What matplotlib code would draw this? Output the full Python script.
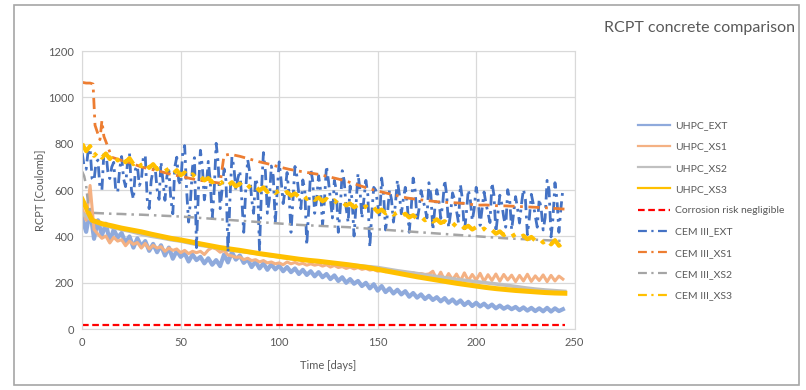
import matplotlib
matplotlib.use('Agg')
import matplotlib.pyplot as plt
from matplotlib.patches import Rectangle

plt.rcParams['font.family'] = ['Lato', 'DejaVu Sans']

# time grids (days)
days1 = list(range(0, 245))
days2 = list(range(0, 246, 2))
days5 = list(range(0, 246, 5))

# UHPC series
uhpc_ext = [480, 420, 515, 390, 470, 405, 455, 380, 430, 395,
            415, 372, 400, 352, 392, 358, 380, 338, 368, 332,
            362, 318, 352, 304, 338, 312, 328, 292, 322, 298,
            312, 284, 306, 278, 298, 272, 322, 288, 332, 300,
            318, 286, 302, 268, 292, 262, 284, 256, 280, 258,
            274, 250, 268, 246, 262, 238, 256, 234, 250, 228,
            246, 224, 238, 216, 232, 208, 224, 200, 216, 196,
            208, 186, 200, 176, 194, 166, 186, 160, 176, 154,
            170, 150, 164, 140, 156, 136, 150, 130, 144, 126,
            138, 120, 134, 114, 128, 110, 124, 104, 118, 100,
            114, 98, 110, 94, 106, 90, 102, 88, 98, 86,
            96, 82, 94, 80, 92, 78, 90, 77, 92, 76,
            90, 78, 86]
uhpc_xs1 = [520, 470, 620, 430, 410, 392, 402, 372, 396, 380,
            386, 360, 380, 366, 374, 350, 370, 346, 362, 350,
            356, 336, 350, 340, 346, 330, 340, 326, 336, 330,
            336, 322, 342, 352, 346, 332, 340, 320, 316, 310,
            312, 300, 306, 296, 300, 290, 296, 286, 290, 282,
            286, 278, 290, 282, 288, 280, 284, 276, 282, 276,
            280, 272, 278, 268, 275, 266, 270, 262, 268, 260,
            266, 258, 262, 255, 258, 250, 255, 248, 252, 246,
            248, 242, 246, 240, 243, 238, 240, 236, 238, 250,
            214, 246, 210, 240, 213, 238, 208, 243, 210, 236,
            212, 241, 206, 235, 210, 238, 207, 236, 212, 233,
            205, 232, 208, 237, 206, 230, 210, 234, 205, 232,
            208, 229, 216]
uhpc_xs2 = [500, 468, 452, 440, 430, 421, 410, 401, 394, 386,
            380, 371, 362, 356, 348, 342, 336, 331, 325, 318,
            312, 306, 301, 296, 291, 286, 281, 277, 274, 270,
            266, 259, 252, 246, 240, 233, 227, 221, 215, 210,
            205, 200, 195, 190, 184, 178, 173, 169, 166, 163]
uhpc_xs3 = [560, 470, 455, 446, 436, 428, 420, 410, 401, 392,
            385, 377, 368, 360, 352, 346, 340, 333, 326, 320,
            314, 308, 302, 297, 293, 288, 283, 278, 272, 266,
            258, 250, 242, 234, 226, 219, 212, 205, 198, 192,
            186, 180, 175, 171, 167, 164, 161, 158, 156, 155]

# corrosion threshold
risk_days = [0, 245]
risk = [20, 20]

# CEM III series
cem_ext = [760, 700, 690, 770, 780, 650, 640, 720, 730, 610, 600, 760, 770, 680, 650, 700, 720, 600, 590, 690,
           745, 650, 615, 720, 760, 600, 560, 690, 705, 620, 640, 740, 752, 560, 520, 640, 688, 700, 604, 560,
           722, 640, 556, 660, 684, 560, 498, 700, 742, 640, 622, 760, 792, 600, 462, 560, 700, 740, 352, 600,
           772, 700, 558, 620, 724, 640, 478, 600, 802, 720, 520, 600, 692, 640, 332, 560, 744, 700, 600, 650,
           684, 560, 418, 600, 732, 680, 562, 500, 652, 620, 342, 600, 762, 680, 500, 560, 704, 660, 458, 600,
           722, 640, 542, 600, 676, 580, 418, 560, 702, 660, 582, 520, 644, 600, 362, 520, 692, 640, 500, 560,
           662, 600, 448, 560, 704, 640, 560, 480, 642, 600, 418, 520, 684, 640, 522, 460, 618, 560, 402, 540,
           672, 600, 478, 560, 642, 580, 352, 500, 612, 600, 538, 480, 652, 580, 428, 500, 602, 560, 462, 540,
           644, 580, 498, 560, 612, 540, 418, 520, 652, 600, 468, 520, 598, 560, 522, 480, 632, 580, 428, 520,
           602, 560, 478, 540, 644, 580, 438, 500, 588, 560, 512, 460, 624, 560, 418, 500, 602, 560, 468, 520,
           612, 560, 448, 520, 592, 540, 502, 460, 632, 580, 418, 500, 578, 540, 482, 440, 602, 560, 428, 500,
           572, 520, 458, 540, 604, 560, 408, 480, 582, 540, 488, 440, 562, 520, 428, 480, 642, 600, 398, 480,
           632, 560, 418, 520, 604]
cem_xs1_days = [0, 2, 4, 5.5, 6.5, 8, 9, 10, 11, 12, 15, 20, 25, 30, 35,
                40, 45, 50, 55, 60, 65, 70, 72, 75, 80, 85, 90, 95, 100,
                105, 110, 115, 120, 125, 130, 135, 140, 145, 150, 155, 160,
                165, 170, 175, 180, 185, 190, 195, 200, 205, 210, 215, 220,
                225, 230, 235, 240, 245]
cem_xs1 = [1065, 1062, 1062, 1058, 880, 842, 818, 900, 832, 810, 742, 728,
           716, 700, 690, 680, 668, 660, 650, 642, 636, 630, 750, 755,
           746, 734, 722, 712, 700, 690, 682, 675, 668, 658, 648, 636,
           622, 608, 596, 586, 576, 566, 560, 555, 550, 547, 545, 542,
           535, 536, 533, 532, 530, 528, 526, 524, 521, 518]
cem_xs2_days = [0, 1, 2, 3, 4, 5] + list(range(10, 246, 5))
cem_xs2 = [680, 660, 620, 540, 510, 502,
           500, 498, 497, 495, 494, 492, 490, 488, 486, 483,
           480, 477, 474, 471, 468, 465, 462, 459, 456, 453,
           450, 448, 446, 444, 442, 440, 437, 434, 431, 428,
           425, 422, 419, 416, 413, 410, 407, 404, 401, 398,
           395, 392, 390, 388, 386, 384, 382, 380]
cem_xs3 = [800, 768, 790, 748, 766, 740, 758, 734, 756, 728,
           746, 720, 738, 712, 728, 704, 720, 696, 712, 690,
           700, 682, 692, 670, 686, 664, 676, 656, 668, 650,
           660, 642, 652, 634, 646, 628, 640, 620, 634, 616,
           628, 610, 622, 604, 616, 598, 612, 592, 604, 588,
           598, 582, 592, 576, 586, 570, 580, 562, 574, 558,
           568, 552, 562, 546, 556, 540, 550, 534, 542, 526,
           536, 520, 530, 514, 524, 506, 516, 500, 510, 494,
           504, 488, 498, 482, 492, 476, 486, 470, 480, 464,
           474, 458, 466, 450, 458, 442, 452, 436, 446, 430,
           440, 424, 434, 418, 428, 412, 422, 406, 416, 400,
           410, 394, 404, 388, 398, 382, 392, 374, 388, 366,
           384, 360, 372]

txt = '#595959'
fig = plt.figure(figsize=(8.06, 3.9), dpi=100)
fig.patches.append(Rectangle((14 / 806, 5 / 390), 785 / 806, 380 / 390,
                             transform=fig.transFigure, fill=False,
                             edgecolor='#a6a6a6', linewidth=1.2))
ax = fig.add_axes([0.102, 0.156, 0.611, 0.713])

dd = (4, 2, 1, 2)
ax.plot(days2, uhpc_ext, color='#8faadc', lw=3.0, label='UHPC_EXT')
ax.plot(days2, uhpc_xs1, color='#f4b183', lw=2.2, label='UHPC_XS1')
ax.plot(days5, uhpc_xs2, color='#c0c0c0', lw=2.6, label='UHPC_XS2')
ax.plot(days5, uhpc_xs3, color='#ffc000', lw=3.6, label='UHPC_XS3')
ax.plot(risk_days, risk, color='#ff0000', lw=1.6, dashes=(3, 1.6),
        label='Corrosion risk negligible')
ax.plot(days1, cem_ext, color='#4472c4', lw=2.0, dashes=dd, label='CEM III_EXT')
ax.plot(cem_xs1_days, cem_xs1, color='#ed7d31', lw=2.0, dashes=dd, label='CEM III_XS1')
ax.plot(cem_xs2_days, cem_xs2, color='#a5a5a5', lw=1.8, dashes=dd, label='CEM III_XS2')
ax.plot(days2, cem_xs3, color='#ffc000', lw=3.0, dashes=dd, label='CEM III_XS3')

ax.set_xlim(0, 250)
ax.set_ylim(0, 1200)
ax.set_xticks(range(0, 251, 50))
ax.set_yticks(range(0, 1201, 200))
ax.grid(True, color='#d9d9d9', lw=0.9)
ax.set_axisbelow(True)
for s in ax.spines.values():
    s.set_color('#d9d9d9')
ax.tick_params(length=0, labelsize=8, labelcolor=txt, pad=6)
ax.set_xlabel('Time [days]', fontsize=8, color=txt, labelpad=8)
ax.set_ylabel('RCPT [Coulomb]', fontsize=8, color=txt, labelpad=2)

fig.text(0.986, 0.928, 'RCPT concrete comparison', ha='right', va='center',
         fontsize=11.5, color=txt)

leg = ax.legend(loc='upper left', bbox_to_anchor=(0.792, 0.69),
                bbox_transform=fig.transFigure, frameon=False, fontsize=7.5,
                handlelength=3.0, handletextpad=0.5, labelspacing=1.15,
                borderpad=0, borderaxespad=0)
for t in leg.get_texts():
    t.set_color(txt)
for l in leg.get_lines():
    l.set_linewidth(1.6)

fig.savefig('out.png', dpi=100)
